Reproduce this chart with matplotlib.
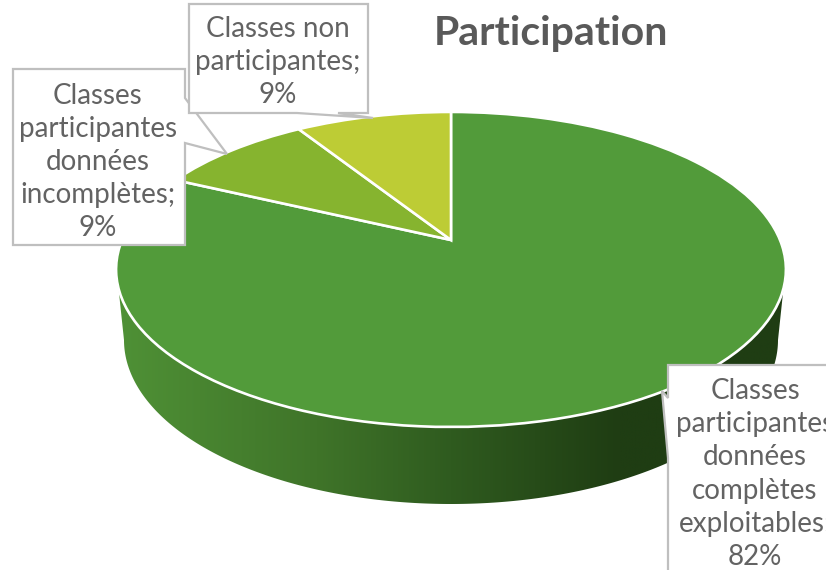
import matplotlib
matplotlib.use('Agg')
import matplotlib.pyplot as plt
from matplotlib.colors import LinearSegmentedColormap
from matplotlib.patches import Polygon
from matplotlib.transforms import Transform
import numpy as np

plt.rcParams['font.family'] = ['Lato', 'DejaVu Sans']

names = ['Classes\nparticipantes\ndonnées\ncomplètes\nexploitables',
         'Classes\nparticipantes\ndonnées\nincomplètes',
         'Classes non\nparticipantes']
values = [82, 9, 9]
colors = ['#529B3A', '#86B42F', '#BDCC35']
title = 'Participation'

text_color = '#636363'
title_color = '#595959'
box_color = '#BFBFBF'

# perspective of the top face, pixels
cx, cy = 451, 240
persp_a, persp_b, persp_k = 329, 152, 0.187


class Tilt(Transform):
    input_dims = 2
    output_dims = 2

    def transform_non_affine(self, xy):
        xy = np.asarray(xy, dtype=float)
        d = 1 + persp_k * xy[:, 1]
        return np.column_stack([cx + persp_a * xy[:, 0] / d,
                                cy - persp_b * xy[:, 1] / d])


fig = plt.figure(figsize=(8.26, 5.7), dpi=100)
ax = fig.add_axes([0, 0, 1, 1])

# side wall
t = np.linspace(0, 2 * np.pi, 721)
rim = Tilt().transform(np.column_stack([np.cos(t), np.sin(t)]))
front = rim[rim[:, 1] >= 288]
front = front[np.argsort(front[:, 0])]
a = np.linspace(np.pi, 0, 300)
bottom = np.column_stack([451 + 327 * np.cos(a), 340 + 164 * np.sin(a)])
wall_pts = np.vstack([front, bottom[::-1]])
wall_cmap = LinearSegmentedColormap.from_list(
    'wall', [(0, '#4F9136'), (0.3, '#3F7429'), (0.5, '#2F5B1F'),
             (0.75, '#1F3D13'), (1, '#1F3D13')])
grad = ax.imshow(np.linspace(0, 1, 256)[None, :], cmap=wall_cmap, aspect='auto',
                 extent=(116, 786, 510, 270), zorder=1)
wall = Polygon(wall_pts, closed=True, transform=ax.transData, facecolor='none', edgecolor='none')
ax.add_patch(wall)
grad.set_clip_path(wall)

# top face
wedges, _ = ax.pie(values, colors=colors, startangle=90, counterclock=False,
                   wedgeprops={'edgecolor': 'white', 'linewidth': 1.9})
tilt = Tilt() + ax.transData
for w in wedges:
    w.set_transform(tilt)
    w.set_zorder(2)

ax.set_aspect('auto')
ax.set_xlim(0, 826)
ax.set_ylim(570, 0)
ax.axis('off')

# data label callouts
callouts = [
    [(668, 365), (832, 365), (832, 576), (668, 576), (668, 458), (662, 391), (668, 398)],
    [(13, 69), (185, 69), (185, 98), (227, 154), (185, 143), (185, 245), (13, 245)],
    [(189, 4), (368, 4), (368, 113), (338, 113), (373, 118), (297, 113), (189, 113)],
]
label_xy = [(755, 474), (98, 162), (278, 62)]
for i, (name, val) in enumerate(zip(names, values)):
    ax.add_patch(Polygon(callouts[i], closed=True, facecolor='white',
                         edgecolor=box_color, linewidth=1.6, zorder=3 + i))
    ax.text(label_xy[i][0], label_xy[i][1], f'{name};\n{val}%', ha='center', va='center',
            fontsize=20, color=text_color, linespacing=1.34, zorder=3 + i)

ax.text(551, 34, title, ha='center', va='center', fontsize=29.5,
        fontweight='bold', color=title_color, zorder=6)

plt.savefig('out.png', dpi=100)
